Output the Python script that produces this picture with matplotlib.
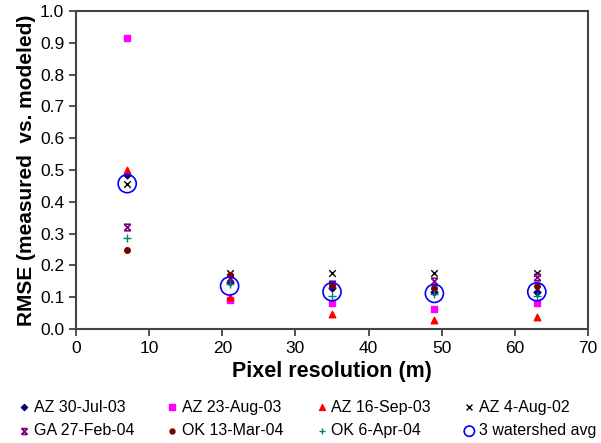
import numpy as np
import matplotlib
matplotlib.use("Agg")
import matplotlib.pyplot as plt
from matplotlib.path import Path

# pixel resolutions (m)
res = [7, 21, 35, 49, 63]

az_30jul03 = [0.483, 0.147, 0.128, 0.117, 0.117]
az_23aug03 = [0.914, 0.091, 0.081, 0.063, 0.081]
az_16sep03 = [0.500, 0.100, 0.047, 0.028, 0.037]
az_4aug02 = [0.455, 0.177, 0.177, 0.177, 0.177]
ga_27feb04 = [0.320, 0.160, 0.140, 0.151, 0.165]
ok_13mar04 = [0.250, 0.170, 0.138, 0.130, 0.136]
ok_6apr04 = [0.287, 0.140, 0.105, 0.110, 0.105]
avg_3ws = [0.457, 0.135, 0.117, 0.112, 0.117]

labels = ["AZ 30-Jul-03", "AZ 23-Aug-03", "AZ 16-Sep-03", "AZ 4-Aug-02",
          "GA 27-Feb-04", "OK 13-Mar-04", "OK 6-Apr-04", "3 watershed avg"]

plt.rcParams['font.family'] = ['Liberation Sans', 'DejaVu Sans']

# x with bars top and bottom (Excel-like star marker)
star = Path([(-1, -1), (1, 1), (-1, 1), (1, -1), (-1, 1), (1, 1), (-1, -1), (1, -1)],
            [Path.MOVETO, Path.LINETO, Path.MOVETO, Path.LINETO,
             Path.MOVETO, Path.LINETO, Path.MOVETO, Path.LINETO])

fig = plt.figure(figsize=(6.01, 4.43), dpi=100)
ax = fig.add_axes([76 / 601, 1 - 329 / 443, 512 / 601, 318 / 443])

h = []
h.append(ax.scatter(res, az_30jul03, marker='D', s=12, color='#000080', label=labels[0], zorder=3))
h.append(ax.scatter(res, az_23aug03, marker='s', s=18, color='#ff00ff', label=labels[1], zorder=3))
h.append(ax.scatter(res, az_16sep03, marker='^', s=22, color='#ff0000', label=labels[2], zorder=3))
h.append(ax.scatter(res, az_4aug02, marker='x', s=22, color='#000000', linewidths=1.0, label=labels[3], zorder=3))
h.append(ax.scatter(res, ga_27feb04, marker=star, s=22, color='#800080', linewidths=1.2, label=labels[4], zorder=3))
h.append(ax.scatter(res, ok_13mar04, marker='o', s=16, color='#800000', label=labels[5], zorder=3))
h.append(ax.scatter(res, ok_6apr04, marker='+', s=26, color='#008080', linewidths=1.0, label=labels[6], zorder=3))
h.append(ax.scatter(res, avg_3ws, marker='o', s=170, facecolors='none', edgecolors='#0000ff',
                    linewidths=1.2, label=labels[7], zorder=4))

ax.set_xlim(0, 70)
ax.set_ylim(0, 1.0)
ax.set_xticks(np.arange(0, 71, 10))
ax.set_yticks(np.arange(0, 1.01, 0.1))
ax.yaxis.set_major_formatter(matplotlib.ticker.FormatStrFormatter('%.1f'))
ax.tick_params(direction='out', length=5, width=1.2, labelsize=12.5, colors='#333333', labelcolor='black')
for sp in ax.spines.values():
    sp.set_linewidth(1.5)
    sp.set_color('#444444')

ax.set_xlabel("Pixel resolution (m)", fontsize=15.5, fontweight='bold', labelpad=4)
ax.set_ylabel("RMSE (measured  vs. modeled)", fontsize=15, fontweight='bold', labelpad=3)

# legend fills column-major, reorder so rows read across
order = [0, 4, 1, 5, 2, 6, 3, 7]
leg = fig.legend([h[i] for i in order], [labels[i] for i in order],
                 loc='lower left', bbox_to_anchor=(0.0, -0.022), ncol=4, frameon=False,
                 fontsize=11.5, handletextpad=0.0, columnspacing=1.8, labelspacing=0.55,
                 handlelength=1.2, markerscale=0.9)
# shrink the big circle in legend
leg.legend_handles[7].set_sizes([55])

fig.savefig("out.png", dpi=100)
